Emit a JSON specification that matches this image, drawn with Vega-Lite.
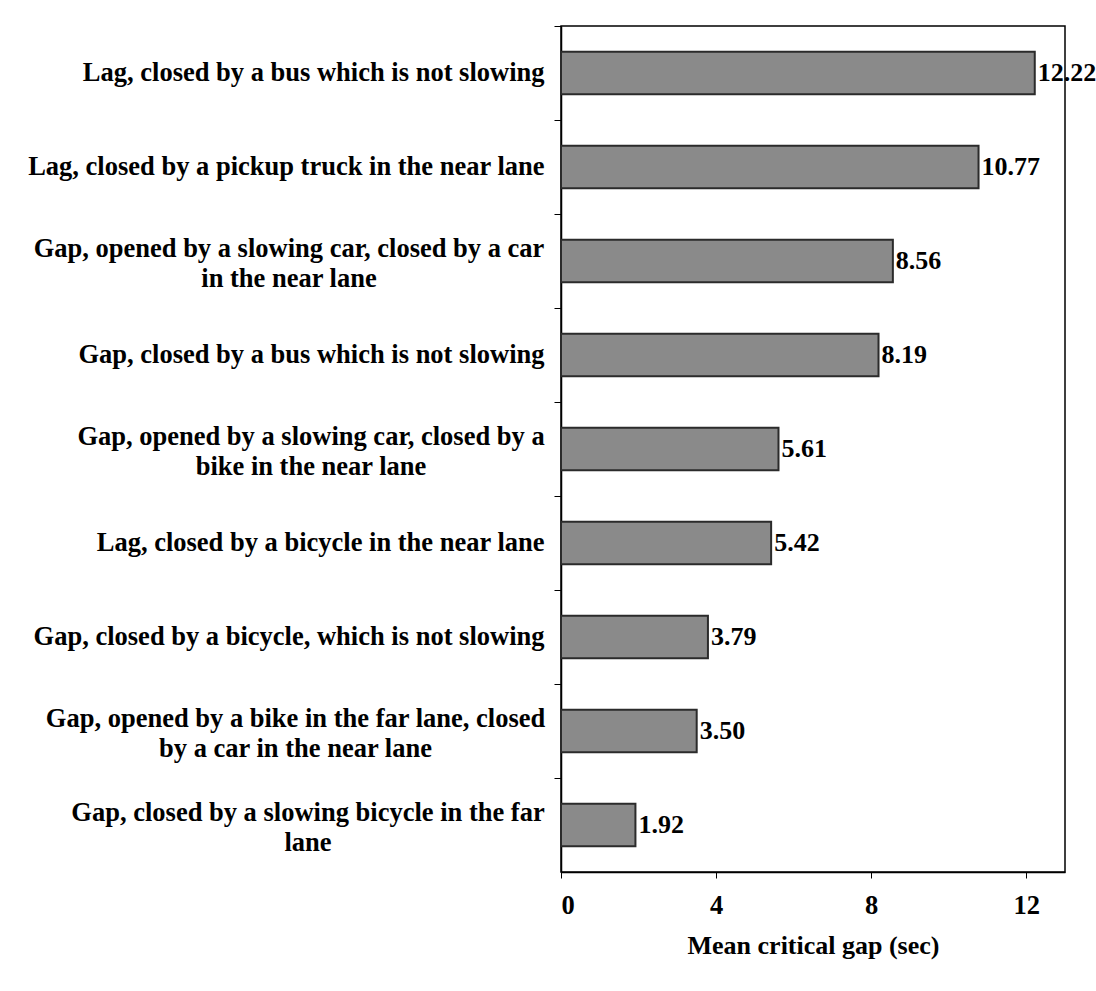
{
  "$schema": "https://vega.github.io/schema/vega-lite/v6.json",
  "autosize": "none",
  "width": 504,
  "height": 846,
  "padding": {"left": 561, "top": 26, "right": 31, "bottom": 119},
  "background": "white",
  "data": {
    "values": [
      {"label": "Lag, closed by a bus which is not slowing", "value": 12.22},
      {"label": "Lag, closed by a pickup truck in the near lane", "value": 10.77},
      {"label": "Gap, opened by a slowing car, closed by a car|in the near lane", "value": 8.56},
      {"label": "Gap, closed by a bus which is not slowing", "value": 8.19},
      {"label": "Gap, opened by a slowing car, closed by a|bike in the near lane", "value": 5.61},
      {"label": "Lag, closed by a bicycle in the near lane", "value": 5.42},
      {"label": "Gap, closed by a bicycle, which is not slowing", "value": 3.79},
      {"label": "Gap, opened by a bike in the far lane, closed|by a car in the near lane", "value": 3.50},
      {"label": "Gap, closed by a slowing bicycle in the far|lane", "value": 1.92}
    ]
  },
  "encoding": {
    "y": {
      "field": "label",
      "type": "nominal",
      "sort": null,
      "scale": {"paddingInner": 0, "paddingOuter": 0},
      "axis": {
        "title": null,
        "bandPosition": 0,
        "labelExpr": "split(datum.value, '|')",
        "labelFont": "Liberation Serif",
        "labelFontWeight": "bold",
        "labelFontSize": 26.5,
        "labelColor": "black",
        "labelLineHeight": 30,
        "labelLimit": 0,
        "labelAlign": {"condition": {"test": "indexof(datum.value, '|') >= 0", "value": "center"}, "value": "right"},
        "labelOffset": {"condition": {"test": "indexof(datum.value, '|') >= 0", "value": -12}, "value": 0},
        "labelPadding": {"condition": [
          {"test": "datum.value == 'Gap, opened by a slowing car, closed by a car|in the near lane'", "value": 265.5},
          {"test": "datum.value == 'Gap, opened by a slowing car, closed by a|bike in the near lane'", "value": 243.5},
          {"test": "datum.value == 'Gap, opened by a bike in the far lane, closed|by a car in the near lane'", "value": 259},
          {"test": "datum.value == 'Gap, closed by a slowing bicycle in the far|lane'", "value": 246.5}
        ], "value": 10},
        "tickSize": 7,
        "tickColor": "black",
        "domainColor": "black",
        "domainWidth": 1.5
      }
    },
    "x": {
      "field": "value",
      "type": "quantitative",
      "scale": {"domain": [0, 13], "nice": false},
      "axis": {
        "title": "Mean critical gap (sec)",
        "values": [0, 4, 8, 12],
        "grid": false,
        "labelFont": "Liberation Serif",
        "labelFontWeight": "bold",
        "labelFontSize": 26.5,
        "labelColor": "black",
        "labelPadding": 14,
        "titleFont": "Liberation Serif",
        "titleFontWeight": "bold",
        "titleFontSize": 26,
        "titleColor": "black",
        "titlePadding": 14,
        "tickSize": 6,
        "tickColor": "black",
        "domainColor": "black",
        "domainWidth": 1.5
      }
    }
  },
  "layer": [
    {
      "mark": {"type": "bar", "height": {"band": 0.45}, "fill": "#8a8a8a", "stroke": "#2b2b2b", "strokeWidth": 2}
    },
    {
      "mark": {"type": "text", "align": "left", "dx": 3, "font": "Liberation Serif", "fontWeight": "bold", "fontSize": 26, "color": "black"},
      "encoding": {"text": {"field": "value", "type": "quantitative", "format": ".2f"}}
    }
  ],
  "config": {
    "view": {"stroke": "black", "strokeWidth": 1.5}
  }
}
